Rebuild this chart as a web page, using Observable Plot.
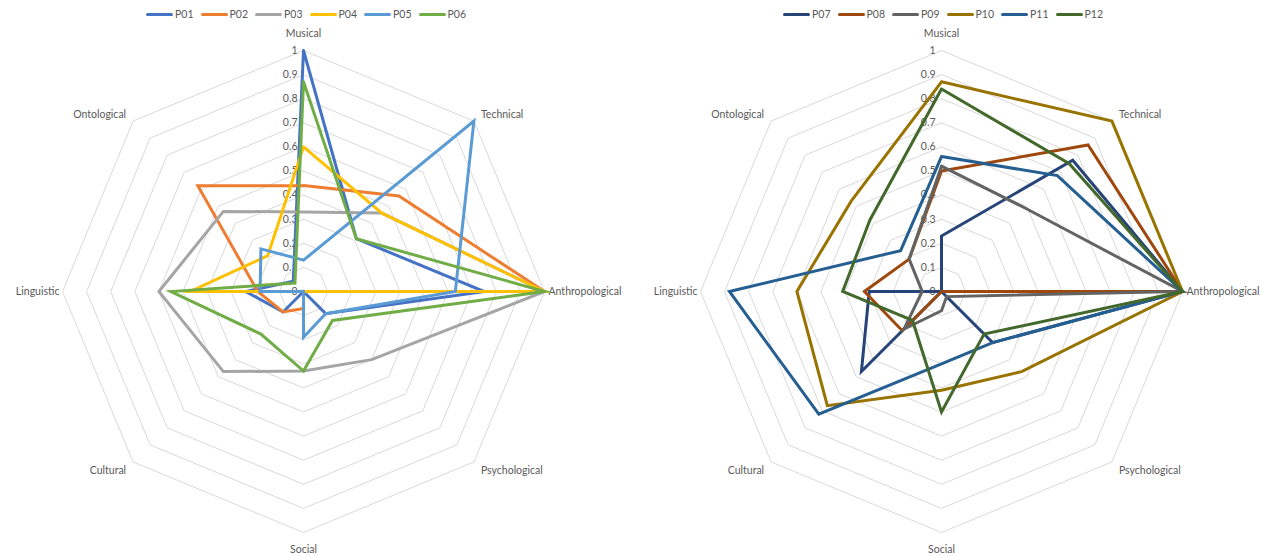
<!DOCTYPE html>
<html>
<head>
<meta charset="utf-8">
<script src="https://cdn.jsdelivr.net/npm/d3@7"></script>
<script src="https://cdn.jsdelivr.net/npm/@observablehq/plot@0.6"></script>
<style>
  html, body { margin: 0; padding: 0; background: #fff; }
  #page { display: flex; flex-direction: row; width: 1263px; height: 556px; overflow: hidden; font-family: Lato, "Open Sans", sans-serif; }
  .col { display: flex; flex-direction: column; }
  .legend { height: 28px; display: flex; justify-content: center; align-items: center; font-size: 10.5px; color: #595959; }
  .item { display: flex; align-items: center; margin: 0 3.5px; }
  .sw { width: 27px; height: 3px; border-radius: 1.5px; margin-right: 2px; }
</style>
</head>
<body>
<div id="page"></div>
<script>
// ---- data ----
const categories = ["Musical", "Technical", "Anthropological", "Psychological", "Social", "Cultural", "Linguistic", "Ontological"];
const tickValues = [0, 0.1, 0.2, 0.3, 0.4, 0.5, 0.6, 0.7, 0.8, 0.9, 1];
const tickLabels = ["0", "0.1", "0.2", "0.3", "0.4", "0.5", "0.6", "0.7", "0.8", "0.9", "1"];

const seriesLeft = ["P01", "P02", "P03", "P04", "P05", "P06"];
const P01 = [1.00, 0.31, 0.75, 0.13, 0.00, 0.12, 0.24, 0.06];
const P02 = [0.44, 0.56, 1.00, 0.00, 0.07, 0.12, 0.19, 0.62];
const P03 = [0.33, 0.46, 1.00, 0.40, 0.33, 0.47, 0.60, 0.47];
const P04 = [0.60, 0.46, 1.00, 0.00, 0.00, 0.00, 0.47, 0.21];
const P05 = [0.13, 1.00, 0.63, 0.13, 0.19, 0.00, 0.18, 0.25];
const P06 = [0.87, 0.31, 1.00, 0.17, 0.33, 0.25, 0.55, 0.05];
const colorsLeft = ["#4472C4", "#ED7D31", "#A5A5A5", "#FFC000", "#5B9BD5", "#70AD47"];

const seriesRight = ["P07", "P08", "P09", "P10", "P11", "P12"];
const P07 = [0.23, 0.77, 1.00, 0.30, 0.00, 0.47, 0.30, 0.00];
const P08 = [0.50, 0.86, 1.00, 0.00, 0.00, 0.23, 0.32, 0.19];
const P09 = [0.52, 0.49, 1.00, 0.03, 0.08, 0.22, 0.08, 0.19];
const P10 = [0.87, 1.00, 1.00, 0.47, 0.41, 0.67, 0.60, 0.53];
const P11 = [0.56, 0.68, 1.00, 0.30, 0.30, 0.72, 0.88, 0.24];
const P12 = [0.84, 0.75, 1.00, 0.25, 0.50, 0.17, 0.41, 0.42];
const colorsRight = ["#264478", "#9E480E", "#636363", "#997300", "#255E91", "#43682B"];

// ---- drawing ----
const R = 241;          // pixels per unit radius
const H = 528;          // svg height
const CY = 263;         // center y in svg
const TEXT = "#595959";
const GRID = "#D9D9D9";
const angle = i => i * 2 * Math.PI / categories.length;

function radar(names, valueArrays, colors, W, cx) {
  const rows = [];
  names.forEach((name, s) => {
    const vals = valueArrays[s];
    for (let k = 0; k <= categories.length; k++) {
      const i = k % categories.length;
      const a = angle(i);
      rows.push({series: name, value: vals[i], x: vals[i] * Math.sin(a), y: vals[i] * Math.cos(a)});
    }
  });
  const rings = [];
  tickValues.filter(v => v > 0).forEach(v => {
    for (let k = 0; k <= categories.length; k++) {
      const a = angle(k % categories.length);
      rings.push({level: v, x: v * Math.sin(a), y: v * Math.cos(a)});
    }
  });
  const ticks = tickValues.map((v, i) => ({v, label: tickLabels[i]}));

  const labelMarks = categories.map((c, i) => {
    const a = angle(i);
    const s = Math.round(Math.sin(a) * 1000) / 1000;
    const co = Math.round(Math.cos(a) * 1000) / 1000;
    let anchor = "middle", dx = 0, dy = 0;
    if (s === 0) { dy = co > 0 ? -17 : 17; }
    else if (co === 0) { anchor = s > 0 ? "start" : "end"; dx = s > 0 ? 4 : -3; }
    else { anchor = s > 0 ? "start" : "end"; dx = s > 0 ? 7 : -7; dy = co > 0 ? -6 : 9; }
    return Plot.text([c], {
      x: () => Math.sin(a), y: () => Math.cos(a), text: d => d,
      textAnchor: anchor, dx, dy, fill: TEXT, fontSize: 10.5
    });
  });

  return Plot.plot({
    width: W, height: H, margin: 0,
    style: {fontFamily: "Lato, 'Open Sans', sans-serif", background: "white", overflow: "visible"},
    x: {domain: [-cx / R, (W - cx) / R], axis: null},
    y: {domain: [-(H - CY) / R, CY / R], axis: null},
    color: {domain: names, range: colors},
    marks: [
      Plot.line(rings, {x: "x", y: "y", z: "level", stroke: GRID, strokeWidth: 1}),
      Plot.text(ticks, {x: () => 0, y: "v", text: "label", textAnchor: "end", dx: -6, fill: TEXT, fontSize: 10.5}),
      ...labelMarks,
      Plot.line(rows, {x: "x", y: "y", z: "series", stroke: "series", strokeWidth: 3,
        strokeLinejoin: "miter", strokeMiterlimit: 10, curve: "linear"})
    ]
  });
}

function legend(names, colors, lx) {
  const div = document.createElement("div");
  div.className = "legend";
  div.style.width = (2 * lx) + "px";
  names.forEach((n, i) => {
    const it = document.createElement("div");
    it.className = "item";
    const sw = document.createElement("div");
    sw.className = "sw";
    sw.style.background = colors[i];
    const t = document.createElement("span");
    t.textContent = n;
    it.appendChild(sw); it.appendChild(t);
    div.appendChild(it);
  });
  return div;
}

const page = document.getElementById("page");
function addColumn(names, arrays, colors, W, cx, lx) {
  const col = document.createElement("div");
  col.className = "col";
  col.style.width = W + "px";
  col.appendChild(legend(names, colors, lx));
  col.appendChild(radar(names, arrays, colors, W, cx));
  page.appendChild(col);
}
addColumn(seriesLeft, [P01, P02, P03, P04, P05, P06], colorsLeft, 631, 303, 306);
addColumn(seriesRight, [P07, P08, P09, P10, P11, P12], colorsRight, 632, 310, 312);
</script>
</body>
</html>
